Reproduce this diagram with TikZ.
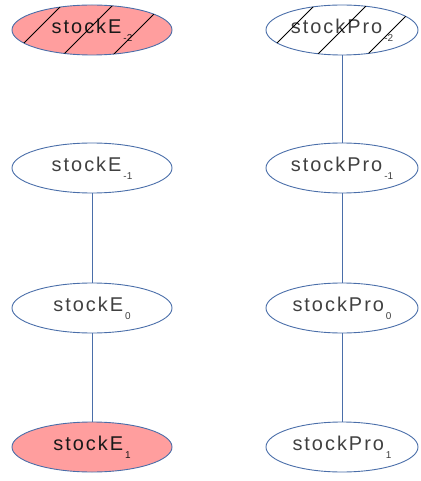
\documentclass[tikz,border=0pt]{standalone}
\usepackage{fontspec}
\setmainfont{Liberation Sans}
\newfontfamily\spacedfont[LetterSpace=10]{Liberation Sans}
\usetikzlibrary{shapes.geometric}
\definecolor{edgeblue}{HTML}{4A6EA9}
\definecolor{pinkfill}{HTML}{FF9E9E}
\newcommand{\lowidx}[1]{\kern2bp\raisebox{-8bp}{\normalfont\fontsize{10}{10}\selectfont #1}}
\begin{document}
\begin{tikzpicture}[x=1bp,y=-1bp,
  st/.style={ellipse, draw=edgeblue, line width=0.9bp, minimum width=160bp, minimum height=50bp, inner sep=0pt, font=\spacedfont\fontsize{20}{22}\selectfont, text=black!75},
  stR/.style={st, minimum width=152bp},
  hot/.style={fill=pinkfill},
  link/.style={draw=edgeblue, line width=0.8bp},
  hatch/.style={draw=black, line width=0.9bp}]
\useasboundingbox (0,0) rectangle (420,481);
% left column
\node[st,hot,text=black!90] (em2) at (92,30) {stockE\lowidx{-2}};
\node[st] (em1) at (92,168) {stockE\lowidx{-1}};
\node[st] (e0) at (92,308) {stockE\lowidx{0}};
\node[st,hot,text=black!90] (e1) at (92,447) {stockE\lowidx{1}};
% right column
\node[stR] (pm2) at (342,30) {stockPro\lowidx{-2}};
\node[stR] (pm1) at (342,168) {stockPro\lowidx{-1}};
\node[stR] (p0) at (342,308) {stockPro\lowidx{0}};
\node[stR] (p1) at (342,447) {stockPro\lowidx{1}};
% hatching
\begin{scope}
  \clip (em2.center) ellipse [x radius=80bp, y radius=25bp];
  \foreach \d in {-55,-4,46} \draw[hatch] ([xshift=\d bp-40bp,yshift=-40bp]em2.center) -- ([xshift=\d bp+40bp,yshift=40bp]em2.center);
\end{scope}
\begin{scope}
  \clip (pm2.center) ellipse [x radius=76bp, y radius=25bp];
  \foreach \d in {-52,0,50} \draw[hatch] ([xshift=\d bp-40bp,yshift=-40bp]pm2.center) -- ([xshift=\d bp+40bp,yshift=40bp]pm2.center);
\end{scope}
% connectors
\draw[link] (em1) -- (e0);
\draw[link] (e0) -- (e1);
\draw[link] (pm2) -- (pm1);
\draw[link] (pm1) -- (p0);
\draw[link] (p0) -- (p1);
\end{tikzpicture}
\end{document}
